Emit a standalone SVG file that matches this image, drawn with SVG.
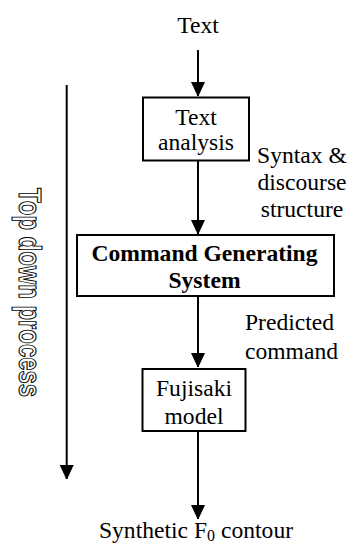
<svg xmlns="http://www.w3.org/2000/svg" width="350" height="544" viewBox="0 0 350 544">
<defs>
<marker id="ah" viewBox="0 0 14 15" refX="14" refY="7" markerWidth="14" markerHeight="15" markerUnits="userSpaceOnUse" orient="auto">
<path d="M0,0 L15,7 L0,14 Z" fill="#000"/>
</marker>
<style>
.t{font-family:"Liberation Serif","Times New Roman",serif;font-size:23.6px;fill:#000}
.b{font-weight:bold}
.box{fill:#fff;stroke:#000;stroke-width:2}
.c{stroke:#000;stroke-width:2;fill:none}
.side{font-family:"Liberation Sans",Arial,sans-serif;font-size:32px;font-weight:bold;fill:#fff;stroke:#000;stroke-width:1.1;paint-order:normal}
</style>
</defs>
<rect width="350" height="544" fill="#fff"/>
<g id="connectors">
<line class="c" x1="198" y1="50" x2="198" y2="96" marker-end="url(#ah)"/>
<line class="c" x1="198" y1="161" x2="198" y2="234" marker-end="url(#ah)"/>
<line class="c" x1="198" y1="296" x2="198" y2="367" marker-end="url(#ah)"/>
<line class="c" x1="198" y1="431" x2="198" y2="519" marker-end="url(#ah)"/>
<line class="c" x1="66.7" y1="85" x2="66.7" y2="479" stroke-width="1.6" marker-end="url(#ah)"/>
</g>
<g id="input">
<text class="t" x="198" y="32.5" text-anchor="middle">Text</text>
</g>
<g id="text-analysis">
<rect class="box" x="143" y="97.5" width="106" height="63"/>
<text class="t" x="196" y="124.5" text-anchor="middle">Text</text>
<text class="t" x="196" y="150" text-anchor="middle">analysis</text>
</g>
<g id="label-syntax">
<text class="t" x="302" y="163" text-anchor="middle">Syntax &amp;</text>
<text class="t" x="302" y="190" text-anchor="middle">discourse</text>
<text class="t" x="302" y="217" text-anchor="middle">structure</text>
</g>
<g id="command-generating-system">
<rect class="box" x="77" y="235" width="257" height="61"/>
<text class="t b" x="204.5" y="261" text-anchor="middle">Command Generating</text>
<text class="t b" x="204.5" y="288" text-anchor="middle">System</text>
</g>
<g id="label-predicted">
<text class="t" x="245" y="330">Predicted</text>
<text class="t" x="245" y="359">command</text>
</g>
<g id="fujisaki-model">
<rect class="box" x="142.5" y="369" width="103" height="62"/>
<text class="t" x="194" y="396" text-anchor="middle">Fujisaki</text>
<text class="t" x="194" y="423.5" text-anchor="middle">model</text>
</g>
<g id="output">
<text class="t" x="196" y="538" text-anchor="middle">Synthetic F<tspan font-size="16" dy="3">0</tspan><tspan dy="-3"> contour</tspan></text>
</g>
<g id="top-down-process">
<text class="side" transform="translate(18.5,292.5) rotate(90)" x="0" y="0" text-anchor="middle" textLength="209" lengthAdjust="spacingAndGlyphs">Top down process</text>
</g>
</svg>
